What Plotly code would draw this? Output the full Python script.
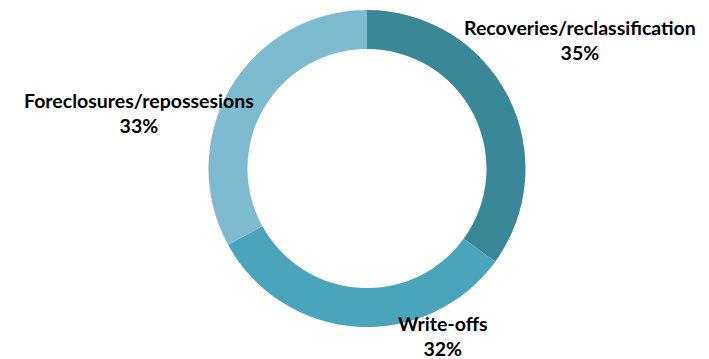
import plotly.graph_objects as go

# Data
categories = ["Recoveries/reclassification", "Write-offs", "Foreclosures/repossesions"]
shares = [35, 32, 33]
colors = ["#3a8797", "#4aa4bc", "#7fbbd0"]

# Label anchor positions (paper coordinates) for each slice
label_pos = [(0.818, 0.889), (0.625, 0.063), (0.196, 0.686)]

W, H = 709, 359
cx, cy, r = 367, 168.5, 158.5

fig = go.Figure(go.Pie(
    labels=categories,
    values=shares,
    hole=0.754,
    sort=False,
    direction="clockwise",
    rotation=0,
    marker=dict(colors=colors, line=dict(width=0)),
    textinfo="none",
    hoverinfo="label+percent",
    showlegend=False,
    domain=dict(x=[(cx - r) / W, (cx + r) / W], y=[1 - (cy + r) / H, 1 - (cy - r) / H]),
))

total = sum(shares)
for name, val, (x, y) in zip(categories, shares, label_pos):
    fig.add_annotation(
        x=x, y=y, xref="paper", yref="paper",
        text=f"<b>{name}</b><br><b>{round(val / total * 100)}%</b>",
        showarrow=False, align="center",
        xanchor="center", yanchor="middle",
        font=dict(family="Lato", size=19.5, color="#000000"),
    )

fig.update_layout(
    width=W, height=H,
    margin=dict(l=0, r=0, t=0, b=0),
    paper_bgcolor="white",
    plot_bgcolor="white",
)

fig.write_html("out.html")
